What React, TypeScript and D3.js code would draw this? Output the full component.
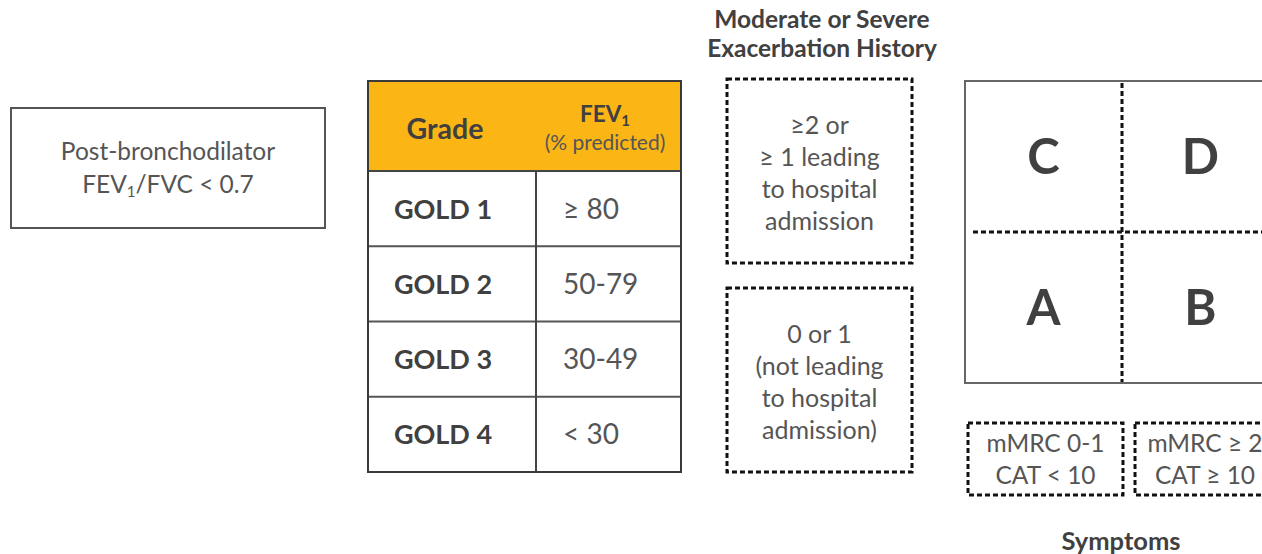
import React from 'react';
import * as d3 from 'd3';

// table: spirometric grades
const grades = ['GOLD 1', 'GOLD 2', 'GOLD 3', 'GOLD 4'];
const fev1Ranges = ['≥ 80', '50-79', '30-49', '< 30'];

// exacerbation history boxes (top = high risk)
const exacerbationLevels = ['high', 'low'];
const exacerbationText = [
  ['≥2 or', '≥ 1 leading', 'to hospital', 'admission'],
  ['0 or 1', '(not leading', 'to hospital', 'admission)'],
];

// ABCD grid
const symptomCols = ['low', 'high'];
const riskRows = ['high', 'low'];
const groupLetters = [
  ['C', 'D'],
  ['A', 'B'],
];
const symptomText = [
  ['mMRC 0-1', 'CAT < 10'],
  ['mMRC ≥ 2', 'CAT ≥ 10'],
];

const W = 1262;
const H = 554;
const FONT = 'Lato, Carlito, "Open Sans", sans-serif';
const DARK = '#404040';
const GREY = '#555555';
const ORANGE = '#FBB515';
const DASH = '5 3';

const App: React.FC = () => {
  // table layout
  const tableX = [368, 536, 681];
  const tableTop = 81;
  const headerBottom = 171;
  const tableBottom = 472;
  const rowY = d3.scaleBand<string>().domain(grades).range([headerBottom, tableBottom]);

  // exacerbation boxes
  const exY = d3.scaleBand<string>().domain(exacerbationLevels).range([79, 472]).paddingInner(0.12);
  const exX0 = 727;
  const exX1 = 912;

  // grid
  const gridLeft = 965;
  const gridTop = 81;
  const gridBottom = 383;
  const colX = d3.scaleBand<string>().domain(symptomCols).range([gridLeft, gridLeft + 314]);
  const rowQ = d3.scaleBand<string>().domain(riskRows).range([gridTop, gridBottom]);
  const symX = d3.scaleBand<string>().domain(symptomCols).range([968, 968 + 322]).paddingInner(0.072);

  return (
    <svg
      width={W}
      height={H}
      style={{ position: 'absolute', left: 0, top: 0, background: '#fff' }}
      fontFamily={FONT}
    >
      {/* spirometry box */}
      <rect x={11} y={108} width={314} height={120} fill="#fff" stroke="#555" strokeWidth={2} />
      <text x={168} y={160} textAnchor="middle" fontSize={24.5} fill={GREY}>
        Post-bronchodilator
      </text>
      <text x={168} y={193} textAnchor="middle" fontSize={24.5} fill={GREY}>
        FEV<tspan fontSize={15} dy={4}>1</tspan>
        <tspan dy={-4}>/FVC &lt; 0.7</tspan>
      </text>

      {/* GOLD grade table */}
      <rect x={tableX[0]} y={tableTop} width={tableX[2] - tableX[0]} height={headerBottom - tableTop} fill={ORANGE} />
      <text x={445} y={139} textAnchor="middle" fontSize={28.5} fontWeight="bold" fill={DARK}>
        Grade
      </text>
      <text x={605} y={122} textAnchor="middle" fontSize={22.5} fontWeight="bold" fill={DARK}>
        FEV<tspan fontSize={15} dy={4}>1</tspan>
      </text>
      <text x={605} y={150} textAnchor="middle" fontSize={21} fill={GREY}>
        (% predicted)
      </text>
      {grades.map((g, i) => {
        const y = rowY(g)!;
        const cy = y + rowY.bandwidth() / 2;
        return (
          <g key={g}>
            <text x={443} y={cy + 10} textAnchor="middle" fontSize={27} fontWeight="bold" fill={DARK}>
              {g}
            </text>
            <text x={563} y={cy + 10} fontSize={28} fill={GREY}>
              {fev1Ranges[i]}
            </text>
            {i > 0 && (
              <line x1={tableX[0]} x2={tableX[2]} y1={y} y2={y} stroke="#555" strokeWidth={2} />
            )}
          </g>
        );
      })}
      <line x1={tableX[0]} x2={tableX[2]} y1={headerBottom} y2={headerBottom} stroke="#444" strokeWidth={2} />
      <line x1={tableX[1]} x2={tableX[1]} y1={headerBottom} y2={tableBottom} stroke="#444" strokeWidth={2} />
      <rect
        x={tableX[0]}
        y={tableTop}
        width={tableX[2] - tableX[0]}
        height={tableBottom - tableTop}
        fill="none"
        stroke="#3a3a3a"
        strokeWidth={2}
      />

      {/* exacerbation history */}
      <text x={822} y={28} textAnchor="middle" fontSize={24.5} fontWeight="bold" fill={DARK}>
        Moderate or Severe
      </text>
      <text x={822} y={57} textAnchor="middle" fontSize={24.5} fontWeight="bold" fill={DARK}>
        Exacerbation History
      </text>
      {exacerbationLevels.map((lvl, i) => {
        const y = exY(lvl)!;
        return (
          <g key={lvl}>
            <rect
              x={exX0}
              y={y}
              width={exX1 - exX0}
              height={exY.bandwidth()}
              fill="none"
              stroke="#111"
              strokeWidth={3}
              strokeDasharray={DASH}
            />
            {exacerbationText[i].map((t, j) => (
              <text
                key={j}
                x={(exX0 + exX1) / 2}
                y={y + 55 + j * 32}
                textAnchor="middle"
                fontSize={25}
                fill={GREY}
              >
                {t}
              </text>
            ))}
          </g>
        );
      })}

      {/* ABCD grid */}
      <rect
        x={gridLeft}
        y={gridTop}
        width={colX.range()[1] - gridLeft}
        height={gridBottom - gridTop}
        fill="none"
        stroke="#666"
        strokeWidth={2}
      />
      <line
        x1={colX('high')!}
        x2={colX('high')!}
        y1={gridTop + 2}
        y2={gridBottom - 1}
        stroke="#111"
        strokeWidth={3}
        strokeDasharray={DASH}
      />
      <line
        x1={gridLeft + 8}
        x2={W}
        y1={rowQ('low')!}
        y2={rowQ('low')!}
        stroke="#111"
        strokeWidth={3}
        strokeDasharray={DASH}
      />
      {riskRows.map((r, ri) =>
        symptomCols.map((c, ci) => (
          <text
            key={r + c}
            x={colX(c)! + colX.bandwidth() / 2}
            y={rowQ(r)! + rowQ.bandwidth() / 2 + 17}
            textAnchor="middle"
            fontSize={49}
            fontWeight="bold"
            fill={DARK}
          >
            {groupLetters[ri][ci]}
          </text>
        ))
      )}

      {/* symptom boxes; the right box runs past the edge, its text sits left of centre */}
      {symptomCols.map((c, i) => {
        const x = symX(c)!;
        const tx = i === 0 ? x + symX.bandwidth() / 2 : x + 70;
        return (
          <g key={c}>
            <rect
              x={x}
              y={423}
              width={symX.bandwidth()}
              height={72}
              fill="none"
              stroke="#111"
              strokeWidth={3}
              strokeDasharray={DASH}
            />
            {symptomText[i].map((t, j) => (
              <text key={j} x={tx} y={452 + j * 32} textAnchor="middle" fontSize={24.5} fill={GREY}>
                {t}
              </text>
            ))}
          </g>
        );
      })}
      <text x={1121} y={550} textAnchor="middle" fontSize={25.5} fontWeight="bold" fill={DARK}>
        Symptoms
      </text>
    </svg>
  );
};

export default App;
